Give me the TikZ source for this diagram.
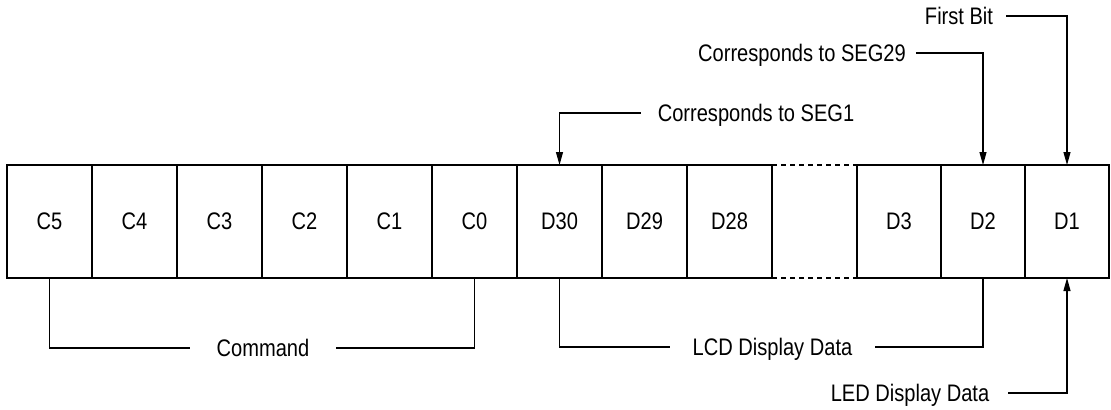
\documentclass[tikz,border=0pt]{standalone}
\usepackage{fontspec}
\setmainfont{Liberation Sans}[FakeStretch=0.84]
\usetikzlibrary{arrows.meta}

\tikzset{
  box/.style={draw, line width=1.1bp, minimum width=85bp, minimum height=113bp,
    inner sep=0pt, outer sep=0pt, text depth=0pt},
  lbl/.style={inner ysep=0pt, outer sep=0pt, text depth=0pt},
  conn/.style={line width=1.1bp},
  arr/.style={conn, -{Triangle[length=13bp,width=7bp]}}
}

\begin{document}
\begin{tikzpicture}[x=1bp, y=-1bp, font=\fontsize{24}{28}\selectfont]
        \useasboundingbox (0,0) rectangle (1111,409);

        % Command bits
        \node[box] (c5) at (49.5,221.5) {C5};
        \node[box] (c4) at (134.5,221.5) {C4};
        \node[box] (c3) at (219.5,221.5) {C3};
        \node[box] (c2) at (304.5,221.5) {C2};
        \node[box] (c1) at (389.5,221.5) {C1};
        \node[box] (c0) at (474.5,221.5) {C0};

        % Display data bits
        \node[box] (d30) at (559.5,221.5) {D30};
        \node[box] (d29) at (644.5,221.5) {D29};
        \node[box] (d28) at (729.5,221.5) {D28};
        \node[box, minimum width=84bp] (d3) at (899,221.5) {D3};
        \node[box, minimum width=84bp] (d2) at (983,221.5) {D2};
        \node[box, minimum width=84bp] (d1) at (1067,221.5) {D1};

        % Gap between D28 and D3
        \draw[conn, dash pattern=on 5bp off 4bp] (d28.north east) -- (d3.north west);
        \draw[conn, dash pattern=on 5bp off 4bp] (d28.south east) -- (d3.south west);

        % Labels
        \node[lbl, inner xsep=27bp] (cmd) at (263,348) {Command};
        \node[lbl, inner xsep=23bp] (lcd) at (772.5,347) {LCD Display Data};
        \node[lbl, inner xsep=19bp] (led) at (910,393) {LED Display Data};
        \node[lbl, inner xsep=13bp] (first) at (959,16) {First Bit};
        \node[lbl, inner xsep=10bp] (seg29) at (802,53) {Corresponds to SEG29};
        \node[lbl, inner xsep=17bp] (seg1) at (756,113) {Corresponds to SEG1};

        % Brackets below
        \draw[conn] (c5.south) |- (cmd.west);
        \draw[conn] (c0.south) |- (cmd.east);
        \draw[conn] (d30.south) |- (lcd.west);
        \draw[conn] (d2.south) |- (lcd.east);

        % Arrows
        \draw[arr] (led.east) -| (d1.south);
        \draw[arr] (first.east) -| (d1.north);
        \draw[arr] (seg29.east) -| (d2.north);
        \draw[arr] (seg1.west) -| (d30.north);
    \end{tikzpicture}
\end{document}
